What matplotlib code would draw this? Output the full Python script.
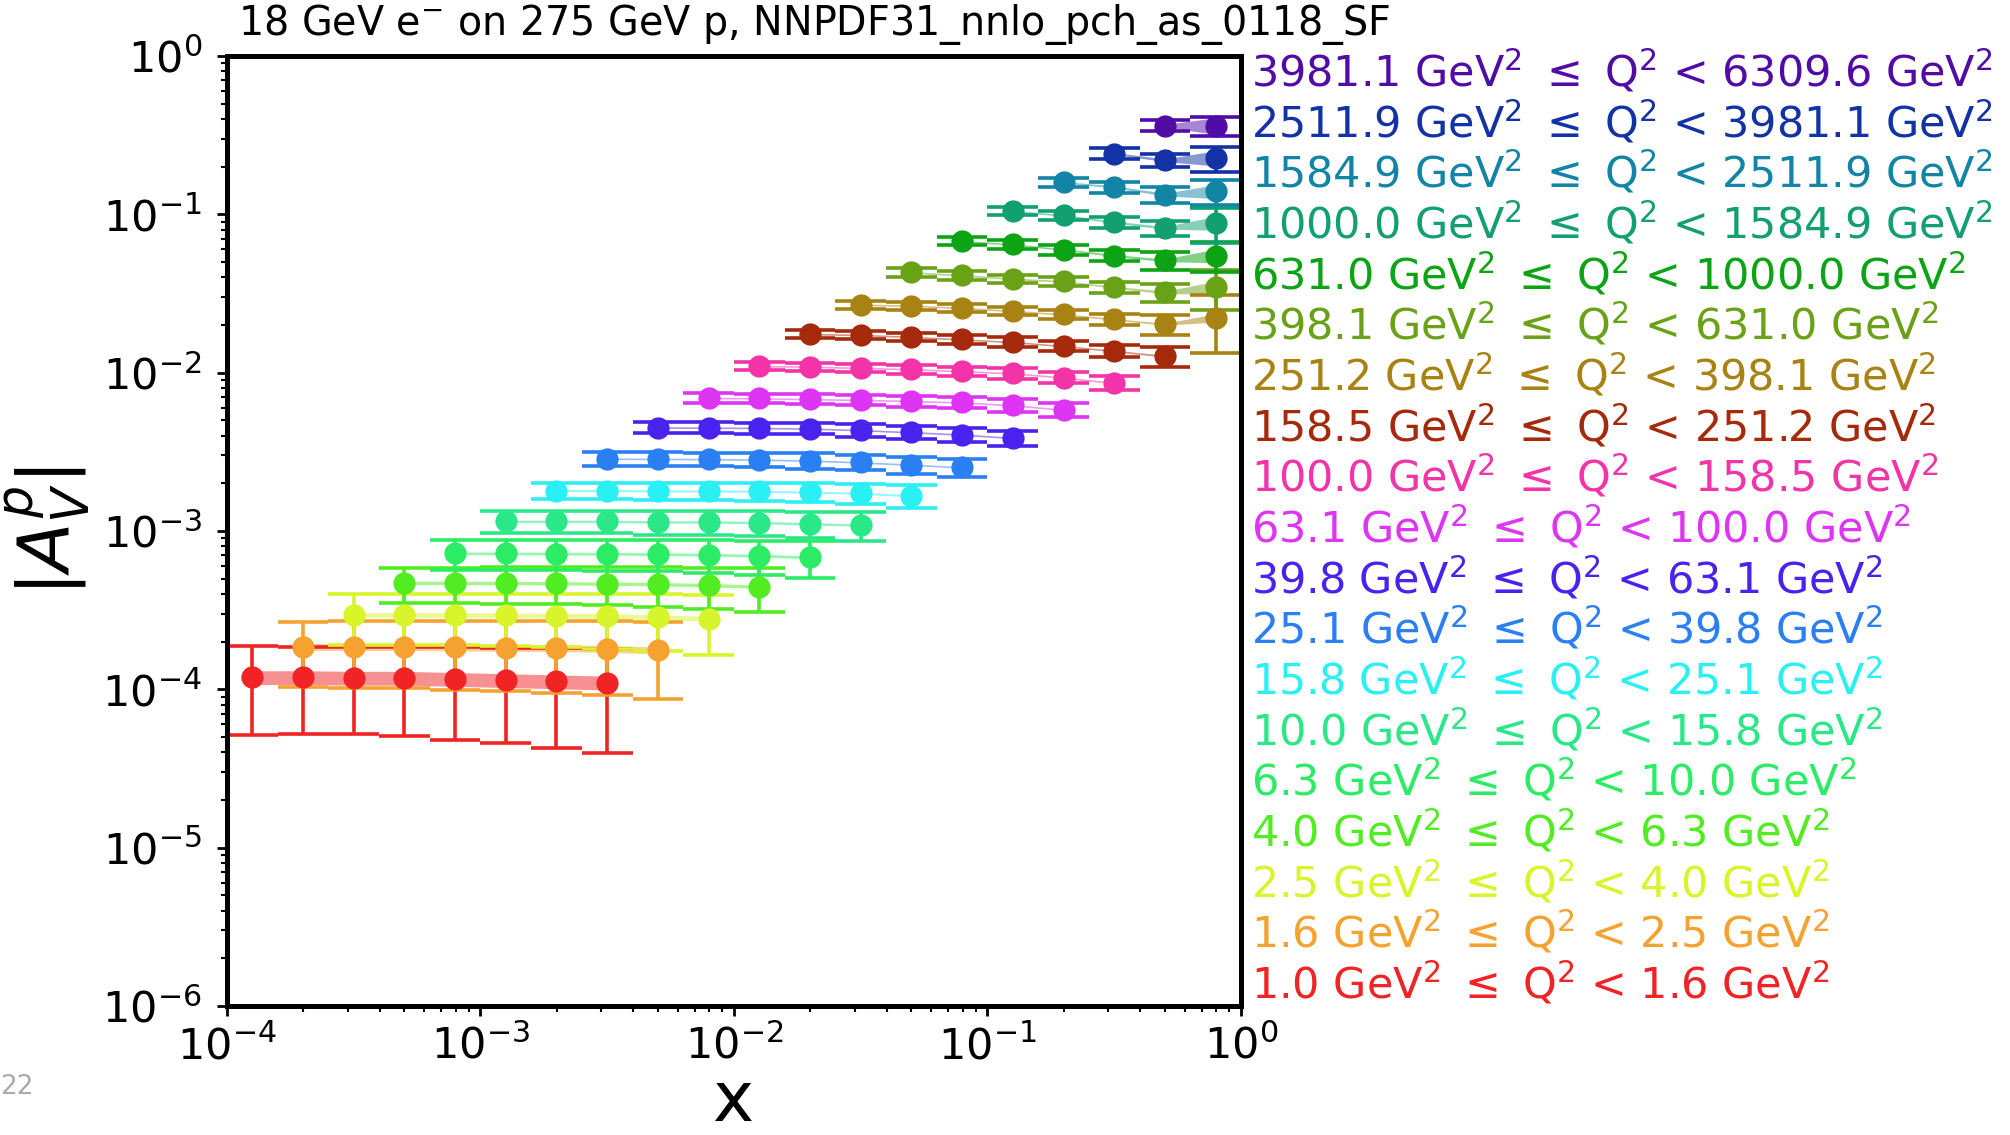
import matplotlib
matplotlib.use("Agg")
import matplotlib.pyplot as plt

# x bins, 5 per decade
x_edges = [1.000e-4, 1.585e-4, 2.512e-4, 3.981e-4, 6.310e-4,
           1.000e-3, 1.585e-3, 2.512e-3, 3.981e-3, 6.310e-3,
           1.000e-2, 1.585e-2, 2.512e-2, 3.981e-2, 6.310e-2,
           1.000e-1, 0.1585, 0.2512, 0.3981, 0.6310, 1.0]
x_centers = [1.259e-4, 1.995e-4, 3.162e-4, 5.012e-4, 7.943e-4,
             1.259e-3, 1.995e-3, 3.162e-3, 5.012e-3, 7.943e-3,
             1.259e-2, 1.995e-2, 3.162e-2, 5.012e-2, 7.943e-2,
             0.1259, 0.1995, 0.3162, 0.5012, 0.7943]

# Q^2 bin edges (GeV^2)
q2_edges = [1.0, 1.6, 2.5, 4.0, 6.3, 10.0, 15.8, 25.1, 39.8, 63.1, 100.0,
            158.5, 251.2, 398.1, 631.0, 1000.0, 1584.9, 2511.9, 3981.1, 6309.6]

colors = ['#f02424', '#f6a230', '#d8f42a', '#52ec22', '#2cec66', '#2ae888',
          '#2af0f4', '#2a80f2', '#4a22ee', '#de34f4', '#f234a8', '#a52a0c',
          '#a88212', '#6aa217', '#0ca314', '#12a070', '#1284a6', '#1232a6',
          '#520ca6']

# first x bin of each Q^2 bin
first_bin = [0, 1, 2, 3, 4, 5, 6, 7, 8, 9, 10, 11, 12, 13, 14, 15, 16, 17, 18]

# |A_V^p| values
A = [
    [1.19e-4, 1.19e-4, 1.18e-4, 1.18e-4, 1.16e-4, 1.14e-4, 1.12e-4, 1.10e-4],
    [1.85e-4, 1.85e-4, 1.85e-4, 1.84e-4, 1.83e-4, 1.82e-4, 1.80e-4, 1.76e-4],
    [2.95e-4, 2.95e-4, 2.94e-4, 2.93e-4, 2.92e-4, 2.90e-4, 2.86e-4, 2.79e-4],
    [4.70e-4, 4.70e-4, 4.69e-4, 4.67e-4, 4.65e-4, 4.61e-4, 4.55e-4, 4.44e-4],
    [7.22e-4, 7.21e-4, 7.20e-4, 7.18e-4, 7.14e-4, 7.08e-4, 6.98e-4, 6.82e-4],
    [1.15e-3, 1.15e-3, 1.15e-3, 1.14e-3, 1.14e-3, 1.13e-3, 1.11e-3, 1.09e-3],
    [1.80e-3, 1.80e-3, 1.79e-3, 1.79e-3, 1.78e-3, 1.76e-3, 1.73e-3, 1.67e-3],
    [2.86e-3, 2.85e-3, 2.84e-3, 2.82e-3, 2.78e-3, 2.71e-3, 2.62e-3, 2.52e-3],
    [4.50e-3, 4.49e-3, 4.47e-3, 4.43e-3, 4.33e-3, 4.20e-3, 4.06e-3, 3.86e-3],
    [6.92e-3, 6.88e-3, 6.80e-3, 6.72e-3, 6.62e-3, 6.48e-3, 6.22e-3, 5.82e-3],
    [1.10e-2, 1.09e-2, 1.07e-2, 1.05e-2, 1.02e-2, 0.99e-2, 0.93e-2, 0.86e-2],
    [1.75e-2, 1.73e-2, 1.68e-2, 1.62e-2, 1.56e-2, 1.47e-2, 1.37e-2, 1.27e-2],
    [2.68e-2, 2.65e-2, 2.56e-2, 2.45e-2, 2.33e-2, 2.17e-2, 2.02e-2, 2.22e-2],
    [4.30e-2, 4.12e-2, 3.91e-2, 3.77e-2, 3.46e-2, 3.21e-2, 3.46e-2],
    [6.77e-2, 6.45e-2, 5.99e-2, 5.49e-2, 5.12e-2, 5.49e-2],
    [0.1048, 0.0983, 0.0892, 0.0821, 0.0882],
    [0.1592, 0.1490, 0.1333, 0.1396],
    [0.2420, 0.2195, 0.2270],
    [0.363, 0.363],
]

# relative (symmetric) errors
rel_err = [
    [0.57, 0.56, 0.56, 0.57, 0.59, 0.60, 0.62, 0.64],
    [0.44, 0.45, 0.45, 0.46, 0.47, 0.48, 0.49, 0.51],
    [0.35, 0.35, 0.35, 0.36, 0.37, 0.38, 0.39, 0.41],
    [0.25, 0.25, 0.26, 0.26, 0.27, 0.28, 0.29, 0.31],
    [0.21, 0.21, 0.21, 0.22, 0.22, 0.23, 0.24, 0.26],
    [0.16, 0.16, 0.16, 0.17, 0.17, 0.18, 0.19, 0.21],
    [0.12, 0.12, 0.13, 0.13, 0.13, 0.14, 0.15, 0.16],
    [0.10, 0.10, 0.10, 0.10, 0.11, 0.11, 0.12, 0.13],
    [0.08, 0.08, 0.08, 0.08, 0.09, 0.09, 0.10, 0.11],
    [0.07, 0.07, 0.07, 0.07, 0.08, 0.08, 0.09, 0.10],
    [0.06, 0.06, 0.06, 0.07, 0.07, 0.08, 0.08, 0.10],
    [0.06, 0.06, 0.06, 0.06, 0.07, 0.07, 0.09, 0.15],
    [0.06, 0.06, 0.06, 0.06, 0.07, 0.08, 0.15, 0.40],
    [0.06, 0.06, 0.06, 0.07, 0.08, 0.13, 0.28],
    [0.06, 0.06, 0.07, 0.08, 0.13, 0.21],
    [0.06, 0.07, 0.08, 0.11, 0.25],
    [0.07, 0.08, 0.11, 0.18],
    [0.08, 0.10, 0.18],
    [0.08, 0.14],
]

# relative half-width of the theory band
band = [
    [0.10, 0.10, 0.10, 0.10, 0.10, 0.10, 0.10, 0.10],
    [0.05, 0.05, 0.05, 0.05, 0.05, 0.05, 0.05, 0.05],
    [0.035, 0.035, 0.035, 0.035, 0.035, 0.035, 0.035, 0.035],
    [0.025, 0.025, 0.025, 0.025, 0.025, 0.025, 0.025, 0.025],
    [0.02, 0.02, 0.02, 0.02, 0.02, 0.02, 0.02, 0.02],
    [0.018, 0.018, 0.018, 0.018, 0.018, 0.018, 0.018, 0.018],
    [0.015, 0.015, 0.015, 0.015, 0.015, 0.015, 0.015, 0.015],
    [0.012, 0.012, 0.012, 0.012, 0.012, 0.012, 0.012, 0.012],
    [0.012, 0.012, 0.012, 0.012, 0.012, 0.012, 0.012, 0.012],
    [0.012, 0.012, 0.012, 0.012, 0.012, 0.012, 0.012, 0.012],
    [0.012, 0.012, 0.012, 0.012, 0.012, 0.012, 0.012, 0.012],
    [0.012, 0.012, 0.012, 0.012, 0.012, 0.012, 0.012, 0.015],
    [0.012, 0.012, 0.012, 0.012, 0.012, 0.012, 0.015, 0.06],
    [0.012, 0.012, 0.012, 0.012, 0.012, 0.02, 0.09],
    [0.012, 0.012, 0.012, 0.015, 0.02, 0.10],
    [0.012, 0.012, 0.015, 0.02, 0.10],
    [0.012, 0.015, 0.02, 0.10],
    [0.015, 0.02, 0.11],
    [0.02, 0.12],
]

title = "18 GeV e$^{-}$ on 275 GeV p, NNPDF31_nnlo_pch_as_0118_SF"

fig = plt.figure(figsize=(20.1, 11.35), dpi=100)
ax = fig.add_axes([0.1129, 0.1137, 0.5045, 0.837])

for k in range(len(A)):
    c = colors[k]
    s = first_bin[k]
    n = len(A[k])
    xs = x_centers[s:s + n]
    lo = x_edges[s:s + n]
    hi = x_edges[s + 1:s + n + 1]
    y = A[k]
    up = [v * (1 + e) for v, e in zip(y, rel_err[k])]
    dn = [v * (1 - e) for v, e in zip(y, rel_err[k])]
    bu = [v * (1 + b) for v, b in zip(y, band[k])]
    bd = [v * (1 - b) for v, b in zip(y, band[k])]
    ax.fill_between(xs, bd, bu, color=c, alpha=0.5, lw=0, zorder=1)
    ax.vlines(xs, dn, up, color=c, lw=2.6, zorder=2)
    ax.hlines(up, lo, hi, color=c, lw=2.6, zorder=2)
    ax.hlines(dn, lo, hi, color=c, lw=2.6, zorder=2)
    ax.plot(xs, y, 'o', color=c, ms=16, mew=0, zorder=3)

ax.set_xscale('log')
ax.set_yscale('log')
ax.set_xlim(1e-4, 1)
ax.set_ylim(1e-6, 1)
for sp in ax.spines.values():
    sp.set_linewidth(3.6)
ax.tick_params(which='major', length=7, width=2, labelsize=31)
ax.tick_params(axis='y', which='major', pad=11)
ax.tick_params(axis='x', which='major', pad=7)
ax.tick_params(which='minor', length=4, width=1.5)

ax.set_xlabel("x", fontsize=50, labelpad=0)
ax.set_ylabel("$|A_V^p|$", fontsize=52, labelpad=7)

# coloured legend text, highest Q^2 on top
for row in range(len(A)):
    k = len(A) - 1 - row
    label = f"{q2_edges[k]:.1f} GeV$^2$ $\\leq$ Q$^2$ < {q2_edges[k + 1]:.1f} GeV$^2$"
    ax.text(1.010, 0.968 - 0.05335 * row, label, transform=ax.transAxes,
            color=colors[k], fontsize=30.9, ha='left', va='baseline')

fig.text(238 / 2010, 1 - 35 / 1135, title, fontsize=28.5, ha='left', va='baseline')
fig.text(0.0, 0.042, "22", fontsize=19, color='#aaaaaa', ha='left', va='center')

fig.savefig("out.png", dpi=100)
